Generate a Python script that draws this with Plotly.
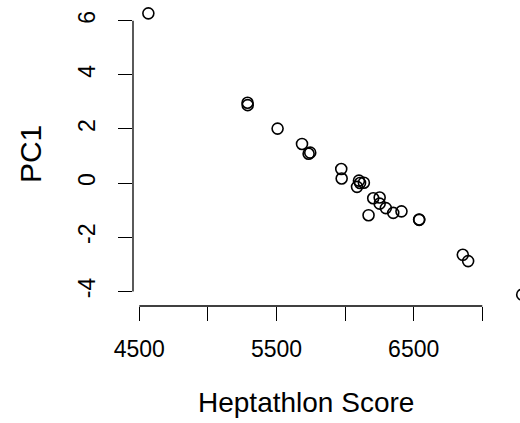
import plotly.graph_objects as go

athletes = ["Joyner-Kersee", "John", "Behmer", "Sablovskaite", "Choubenkova",
            "Schulz", "Fleming", "Greiner", "Lajbnerova", "Bouraga", "Wijnsma",
            "Dimitrova", "Scheider", "Braun", "Ruotsalainen", "Yuping", "Hagger",
            "Brown", "Mulliner", "Hautenauve", "Kytola", "Geremias", "Hui-Ing",
            "Jeong-Mi", "Launa"]
score = [7291, 6897, 6858, 6540, 6540, 6411, 6351, 6297, 6252, 6252, 6205,
         6171, 6137, 6109, 6101, 6087, 5975, 5972, 5746, 5734, 5686, 5508,
         5290, 5289, 4566]
pc1 = [-4.121, -2.882, -2.649, -1.343, -1.359, -1.043, -1.100, -0.923, -0.530,
       -0.760, -0.559, -1.185, 0.015, 0.003, 0.090, -0.138, 0.171, 0.519,
       1.125, 1.085, 1.447, 2.014, 2.880, 2.970, 6.270]

x_ticks = [4500, 5000, 5500, 6000, 6500, 7000]
x_labels = ["4500", "", "5500", "", "6500", ""]
y_ticks = [-4, -2, 0, 2, 4, 6]
y_labels = ["-4", "-2", "0", "2", "4", "6"]

FONT = "Liberation Sans, Arial, Helvetica, sans-serif"

fig = go.Figure()
fig.add_trace(go.Scatter(
    x=score, y=pc1, mode="markers", text=athletes,
    marker=dict(symbol="circle-open", size=11, color="black",
                line=dict(width=1.6, color="black")),
    showlegend=False,
))

axis_common = dict(showgrid=False, zeroline=False, showline=False,
                   ticks="outside", ticklen=14, tickwidth=1.3, tickcolor="black",
                   tickfont=dict(family=FONT, size=23, color="black"))

fig.update_xaxes(range=[4454, 7275], tickvals=x_ticks, ticktext=x_labels,
                 tickangle=0, ticklabelstandoff=8, **axis_common)
fig.update_yaxes(range=[-4.54, 6.69], tickvals=y_ticks, ticktext=y_labels,
                 tickangle=-90, ticklabelstandoff=14, **axis_common)

# R-style axis lines spanning first to last tick
fig.add_shape(type="line", xref="x", yref="paper", x0=x_ticks[0], x1=x_ticks[-1],
              y0=0, y1=0, line=dict(color="black", width=1.3))
fig.add_shape(type="line", xref="paper", yref="y", x0=0, x1=0,
              y0=y_ticks[0], y1=y_ticks[-1], line=dict(color="black", width=1.3))

fig.add_annotation(text="Heptathlon Score", xref="paper", yref="paper",
                   x=0.447, y=-0.317, xanchor="center", yanchor="middle",
                   showarrow=False, font=dict(family=FONT, size=28, color="black"))
fig.add_annotation(text="PC1", xref="paper", yref="paper",
                   x=-0.266, y=0.5, xanchor="center", yanchor="middle", textangle=-90,
                   showarrow=False, font=dict(family=FONT, size=30, color="black"))

fig.update_layout(width=520, height=423, margin=dict(l=133, r=0, t=2, b=117),
                  paper_bgcolor="white", plot_bgcolor="white")

fig.write_html("out.html")
